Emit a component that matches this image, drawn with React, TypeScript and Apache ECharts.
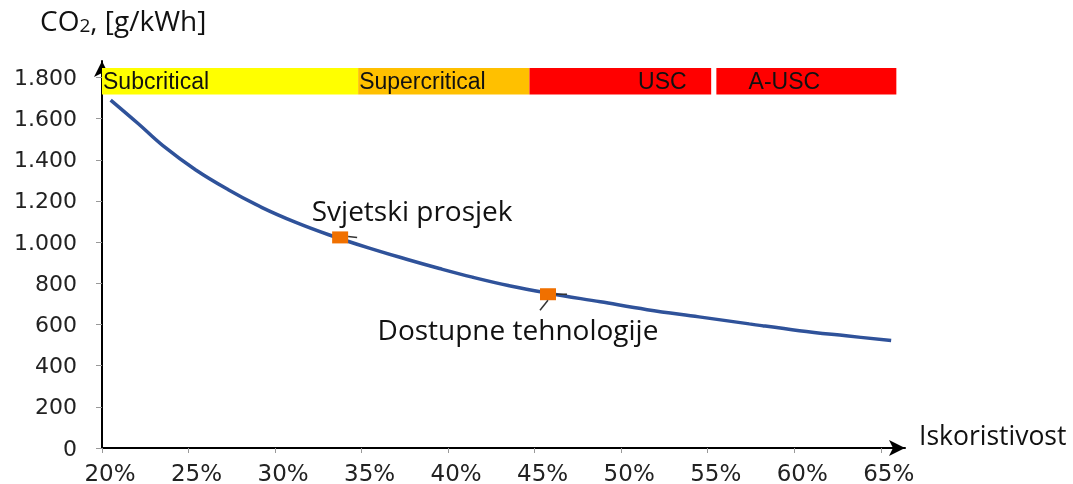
import React, { useEffect, useRef } from "react";
import * as echarts from "echarts";

const effX = [20.5, 22.1, 23.5, 25.4, 27.3, 29.25, 31.2, 33.1, 35.4, 37.6, 39.5, 41.4, 43.6, 45.8, 48.8, 51.5, 54.5, 57.4, 60.3, 63, 65.6];
const co2Y = [1690, 1575, 1470, 1352, 1255, 1168, 1096, 1036, 972, 917, 872, 830, 787, 752, 710, 672, 637, 603, 570, 545, 522];

const pointNames = ["Svjetski prosjek", "Dostupne tehnologije"];
const pointX = [33.76, 45.77];
const pointY = [1023, 747];

const bandNames = ["Subcritical", "Supercritical", "USC", "A-USC"];
const bandStart = [20, 34.8, 44.7, 55.5];
const bandEnd = [34.8, 44.7, 55.2, 65.9];
const bandColors = ["#FFFF00", "#FFC000", "#FF0000", "#FF0000"];
const bandLow = 1717;
const bandHigh = 1846;

const xTicks = [20, 25, 30, 35, 40, 45, 50, 55, 60, 65];
const yTicks = [0, 200, 400, 600, 800, 1000, 1200, 1400, 1600, 1800];

export default function App() {
  const ref = useRef<HTMLDivElement>(null);
  useEffect(() => {
    document.body.style.margin = "0";
    const chart = echarts.init(ref.current!, null, { renderer: "svg" });
    const bandLabelPos: any[] = [
      { position: "insideLeft", distance: 1, offset: [0, 0] },
      { position: "insideLeft", distance: 1, offset: [0, 0] },
      { position: "inside", offset: [42, 0] },
      { position: "inside", offset: [-22, 0] },
    ];
    const labelOffsets = [
      [72, -27],
      [-30, 35],
    ];
    chart.setOption({
      animation: false,
      grid: { left: 102, right: 168, top: 61, bottom: 34.5 },
      xAxis: {
        type: "value",
        min: 20,
        max: 66.4,
        interval: 5,
        axisLine: {
          show: true,
          symbol: ["none", "arrow"],
          symbolSize: [12, 16],
          lineStyle: { color: "#000", width: 2 },
        },
        axisTick: { show: true, customValues: xTicks, length: 5, lineStyle: { color: "#999" } },
        axisLabel: {
          customValues: xTicks,
          formatter: (v: number) => `${v}%`,
          fontFamily: "DejaVu Sans",
          fontSize: 23,
          color: "#222",
          margin: 13,
          padding: [0, 0, 0, 16],
        },
        splitLine: { show: false },
      },
      yAxis: {
        type: "value",
        min: 0,
        max: 1880,
        interval: 200,
        axisLine: {
          show: true,
          symbol: ["none", "arrow"],
          symbolSize: [12, 16],
          lineStyle: { color: "#000", width: 2 },
        },
        axisTick: { show: true, customValues: yTicks, length: 6, lineStyle: { color: "#999" } },
        axisLabel: {
          customValues: yTicks,
          formatter: (v: number) =>
            v >= 1000 ? `${Math.floor(v / 1000)}.${String(v % 1000).padStart(3, "0")}` : `${v}`,
          fontFamily: "DejaVu Sans",
          fontSize: 22,
          color: "#222",
          margin: 25,
        },
        splitLine: { show: false },
      },
      series: [
        {
          type: "line",
          data: effX.map((x, i) => [x, co2Y[i]]),
          smooth: 0.4,
          showSymbol: false,
          lineStyle: { color: "#2F529A", width: 3.5 },
          z: 3,
          markArea: {
            silent: true,
            data: bandNames.map((n, i) => [
              {
                name: n,
                xAxis: bandStart[i],
                yAxis: bandLow,
                itemStyle: { color: bandColors[i] },
                label: {
                  show: true,
                  ...bandLabelPos[i],
                  color: "#111",
                  fontFamily: "Liberation Sans",
                  fontSize: 23,
                },
              },
              { xAxis: bandEnd[i], yAxis: bandHigh },
            ]),
          },
        },
        {
          type: "scatter",
          symbol: "rect",
          symbolSize: [16, 12],
          itemStyle: { color: "#F07000", opacity: 1 },
          z: 5,
          data: pointNames.map((n, i) => ({
            name: n,
            value: [pointX[i], pointY[i]],
            label: {
              show: true,
              position: "inside",
              offset: labelOffsets[i],
              formatter: n,
              color: "#111",
              fontFamily: "Open Sans",
              fontSize: 28,
            },
          })),
        },
      ],
    });
    const p0 = chart.convertToPixel({ gridIndex: 0 }, [pointX[0], pointY[0]]) as number[];
    const p1 = chart.convertToPixel({ gridIndex: 0 }, [pointX[1], pointY[1]]) as number[];
    chart.setOption({
      graphic: [
        {
          type: "text",
          left: 40,
          top: 6,
          style: {
            text: "CO{sub|2}, [g/kWh]",
            fontFamily: "Open Sans",
            fontSize: 28,
            fill: "#111",
            rich: { sub: { fontSize: 19, fontFamily: "Open Sans", fill: "#111", padding: [9, 0, 0, 0] } },
          },
        },
        {
          type: "text",
          left: 919,
          top: 421,
          style: { text: "Iskoristivost", fontFamily: "Open Sans", fontSize: 26.5, fill: "#111" },
        },
        {
          type: "line",
          shape: { x1: p0[0] + 8, y1: p0[1] - 1, x2: p0[0] + 17, y2: p0[1] },
          style: { stroke: "#333", lineWidth: 1.5 },
          z: 6,
        },
        {
          type: "line",
          shape: { x1: p1[0] + 8, y1: p1[1], x2: p1[0] + 19, y2: p1[1] },
          style: { stroke: "#333", lineWidth: 1.5 },
          z: 6,
        },
        {
          type: "line",
          shape: { x1: p1[0], y1: p1[1] + 6, x2: p1[0] - 8, y2: p1[1] + 16 },
          style: { stroke: "#333", lineWidth: 1.5 },
          z: 6,
        },
      ],
    });
    return () => chart.dispose();
  }, []);
  return <div ref={ref} style={{ position: "fixed", left: 0, top: 0, width: 1073, height: 484 }} />;
}
